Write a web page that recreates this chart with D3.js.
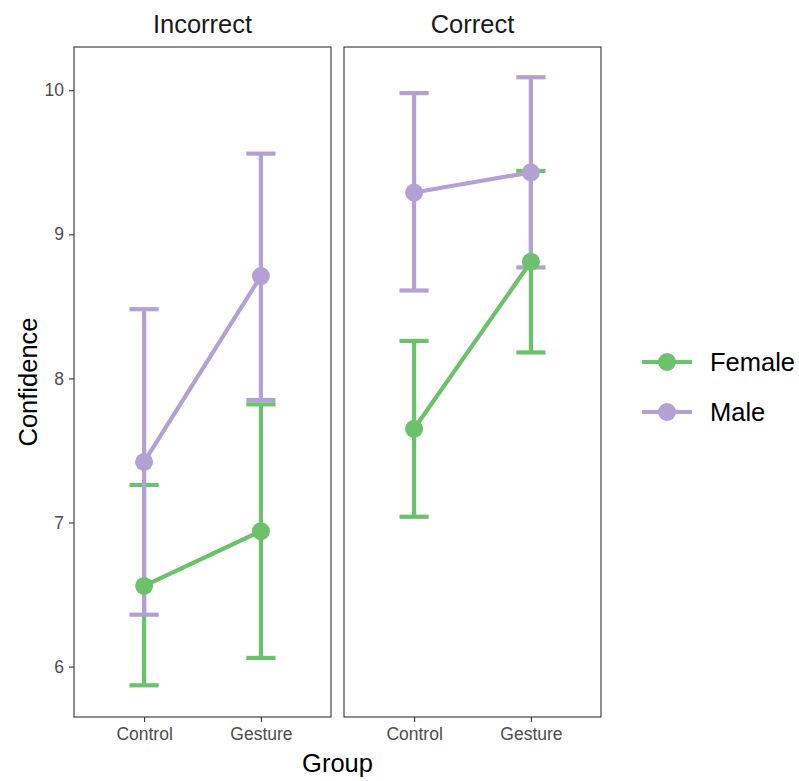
<!DOCTYPE html>
<html>
<head>
<meta charset="utf-8">
<script src="https://cdn.jsdelivr.net/npm/d3@7"></script>
<style>
  body { margin: 0; background: #fff; }
  text { font-family: "Liberation Sans", Arial, sans-serif; }
</style>
</head>
<body>
<svg id="chart" width="799" height="781"></svg>
<script>
// Confidence by group, faceted by answer correctness

const facets = ['Incorrect', 'Correct'];
const groups = ['Control', 'Gesture'];
const sexes = ['Female', 'Male'];
const yTicks = [6, 7, 8, 9, 10];

// mean, lower, upper — per facet, per group
const femaleMean  = [[6.56, 6.94], [7.65, 8.81]];
const femaleLower = [[5.87, 6.06], [7.04, 8.18]];
const femaleUpper = [[7.26, 7.82], [8.26, 9.44]];
const maleMean    = [[7.42, 8.71], [9.29, 9.43]];
const maleLower   = [[6.36, 7.85], [8.61, 8.77]];
const maleUpper   = [[8.48, 9.56], [9.98, 10.09]];

const colors = { Female: '#6cc26a', Male: '#b3a1d3' };

const svg = d3.select('#chart');

const panelTop = 47, panelBottom = 717;
const panels = [[74, 331], [344, 601]];

const y = d3.scaleLinear()
  .domain([5.65, 10.3])
  .range([panelBottom, panelTop]);

const series = [
  { sex: 'Female', mean: femaleMean, lo: femaleLower, hi: femaleUpper },
  { sex: 'Male', mean: maleMean, lo: maleLower, hi: maleUpper }
];

const tickFont = 17.5;
const titleFont = 25.5;

facets.forEach((f, fi) => {
  const [x0, x1] = panels[fi];
  // discrete x with ggplot style expansion
  const x = d3.scalePoint()
    .domain(groups)
    .range([x0, x1])
    .padding(0.6);
  const step = x.step();
  const capHalf = step * 0.125;

  const g = svg.append('g');

  // strip title
  g.append('text')
    .attr('x', (x0 + x1) / 2)
    .attr('y', 33)
    .attr('text-anchor', 'middle')
    .attr('font-size', titleFont)
    .attr('fill', '#1a1a1a')
    .text(f);

  // x axis
  const xAxis = g.append('g')
    .attr('transform', `translate(0,${panelBottom})`)
    .call(d3.axisBottom(x).tickSize(5).tickPadding(6));
  xAxis.attr('font-size', null).attr('font-family', null);
  xAxis.select('.domain').remove();
  xAxis.selectAll('line').attr('stroke', '#333').attr('stroke-width', 1.1);
  xAxis.selectAll('text').style('font-size', tickFont + 'px').attr('fill', '#4d4d4d');

  // y axis on first panel only
  if (fi === 0) {
    const yAxis = g.append('g')
      .attr('transform', `translate(${x0},0)`)
      .call(d3.axisLeft(y).tickValues(yTicks).tickFormat(d3.format('d')).tickSize(5).tickPadding(5));
    yAxis.attr('font-size', null).attr('font-family', null);
    yAxis.select('.domain').remove();
    yAxis.selectAll('line').attr('stroke', '#333').attr('stroke-width', 1.1);
    yAxis.selectAll('text').style('font-size', tickFont + 'px').attr('fill', '#4d4d4d');
  }

  // error bars
  series.forEach(s => {
    const eb = g.append('g')
      .attr('stroke', colors[s.sex])
      .attr('stroke-width', 4.2)
      .attr('fill', 'none');
    groups.forEach((grp, gi) => {
      const cx = x(grp);
      eb.append('line')
        .attr('x1', cx).attr('x2', cx)
        .attr('y1', y(s.lo[fi][gi])).attr('y2', y(s.hi[fi][gi]));
      [s.lo[fi][gi], s.hi[fi][gi]].forEach(v => {
        eb.append('line')
          .attr('x1', cx - capHalf).attr('x2', cx + capHalf)
          .attr('y1', y(v)).attr('y2', y(v));
      });
    });
  });

  // lines
  series.forEach(s => {
    g.append('path')
      .datum(groups.map((grp, gi) => [x(grp), y(s.mean[fi][gi])]))
      .attr('d', d3.line())
      .attr('stroke', colors[s.sex])
      .attr('stroke-width', 4.2)
      .attr('fill', 'none');
  });

  // points
  series.forEach(s => {
    g.selectAll(null)
      .data(groups)
      .enter()
      .append('circle')
      .attr('cx', d => x(d))
      .attr('cy', (d, gi) => y(s.mean[fi][gi]))
      .attr('r', 9)
      .attr('fill', colors[s.sex]);
  });

  // panel border
  g.append('rect')
    .attr('x', x0).attr('y', panelTop)
    .attr('width', x1 - x0).attr('height', panelBottom - panelTop)
    .attr('fill', 'none')
    .attr('stroke', '#333')
    .attr('stroke-width', 1.1);
});

// axis titles
svg.append('text')
  .attr('x', (panels[0][0] + panels[1][1]) / 2)
  .attr('y', 772)
  .attr('text-anchor', 'middle')
  .attr('font-size', titleFont)
  .attr('fill', '#000')
  .text('Group');

svg.append('text')
  .attr('transform', `translate(37,${(panelTop + panelBottom) / 2}) rotate(-90)`)
  .attr('text-anchor', 'middle')
  .attr('font-size', titleFont)
  .attr('fill', '#000')
  .text('Confidence');

// legend
const legend = svg.append('g').attr('transform', 'translate(642,0)');
sexes.forEach((s, i) => {
  const ly = 362 + i * 50;
  legend.append('line')
    .attr('x1', 0).attr('x2', 50)
    .attr('y1', ly).attr('y2', ly)
    .attr('stroke', colors[s])
    .attr('stroke-width', 4.2);
  legend.append('circle')
    .attr('cx', 25).attr('cy', ly).attr('r', 9)
    .attr('fill', colors[s]);
  legend.append('text')
    .attr('x', 68).attr('y', ly + 9)
    .attr('font-size', titleFont)
    .attr('fill', '#000')
    .text(s);
});
</script>
</body>
</html>
